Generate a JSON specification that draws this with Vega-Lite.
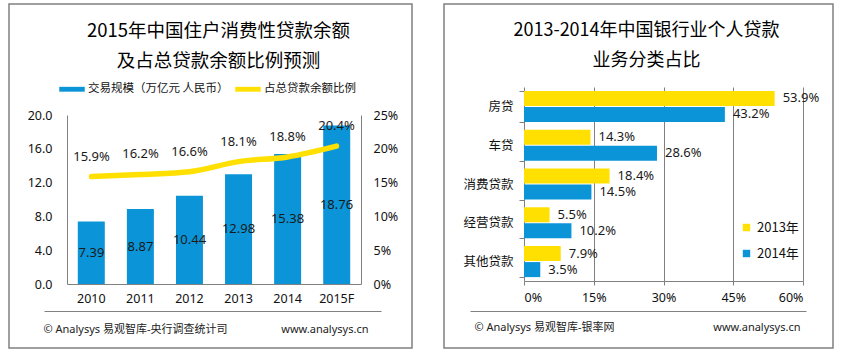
{
  "$schema": "https://vega.github.io/schema/vega-lite/v6.json",
  "padding": {"left": 8, "top": -3, "right": 0, "bottom": 0},
  "spacing": 32,
  "bounds": "flush",
  "resolve": {"scale": {"color": "independent"}, "legend": {"color": "independent"}},
  "config": {
    "view": {"stroke": "#808080", "strokeWidth": 1.5},
    "font": "Noto Sans, Noto Sans CJK SC",
    "axis": {"labelColor": "#111111", "labelFont": "Noto Sans, Noto Sans CJK SC", "domainColor": "#808080", "titleColor": "#222222", "titleFont": "Noto Sans, Noto Sans CJK SC", "titleFontWeight": "normal"},
    "legend": {"labelColor": "#111111", "labelFont": "Noto Sans CJK SC"}
  },
  "hconcat": [
    {
      "width": 403,
      "height": 344,
      "data": {"values": [
        {"year": "2010", "v": 7.39, "p": 0.159},
        {"year": "2011", "v": 8.87, "p": 0.162},
        {"year": "2012", "v": 10.44, "p": 0.166},
        {"year": "2013", "v": 12.98, "p": 0.181},
        {"year": "2014", "v": 15.38, "p": 0.188},
        {"year": "2015F", "v": 18.76, "p": 0.204}
      ]},
      "layer": [
        {
          "mark": {"type": "bar"},
          "encoding": {
            "x": {"field": "year", "type": "ordinal", "sort": null,
              "scale": {"range": [58, 352], "paddingInner": 0.45, "paddingOuter": 0.22},
              "axis": {"orient": "bottom", "offset": -64, "title": null, "ticks": false, "labelAngle": 0, "labelFontSize": 12.5, "labelPadding": 8}},
            "y": {"field": "v", "type": "quantitative",
              "scale": {"domain": [0, 20], "range": [280, 111], "nice": false},
              "axis": {"orient": "left", "offset": -58, "values": [0, 4, 8, 12, 16, 20], "format": ".1f", "grid": false, "ticks": false, "labelFontSize": 12.5, "labelPadding": 15, "title": null}},
            "color": {"datum": "交易规模（万亿元 人民币）",
              "scale": {"domain": ["交易规模（万亿元 人民币）", "占总贷款余额比例"], "range": ["#0B95D8", "#FFE000"]},
              "legend": {"orient": "none", "legendX": 50, "legendY": 72, "direction": "horizontal", "title": null, "symbolType": "M-1,-0.19H1V0.19H-1Z", "symbolSize": 650, "symbolStrokeWidth": 0, "labelFontSize": 11.5, "columnPadding": 6, "labelOffset": 3}}
          }
        },
        {
          "mark": {"type": "text", "fontSize": 13, "color": "#1a1a1a"},
          "encoding": {
            "x": {"field": "year", "type": "ordinal", "sort": null,
              "scale": {"range": [58, 352], "paddingInner": 0.45, "paddingOuter": 0.22},
              "axis": {"orient": "top", "offset": 0, "domain": false, "ticks": false, "labels": false, "grid": false,
                "title": ["2015年中国住户消费性贷款余额", "及占总贷款余额比例预测"], "titleFont": "Noto Sans CJK SC", "titleFontSize": 18.5, "titleColor": "#000000", "titleLineHeight": 30, "titleAlign": "center", "titleBaseline": "top", "titleX": 209, "titleY": 17}},
            "y": {"field": "v", "type": "quantitative",
              "scale": {"domain": [0, 40], "range": [280, 111], "nice": false}, "axis": null},
            "text": {"field": "v", "type": "quantitative", "format": ".2f"}
          }
        },
        {
          "mark": {"type": "line", "color": "#FFE000", "strokeWidth": 5.5, "interpolate": "monotone", "strokeCap": "round"},
          "encoding": {
            "x": {"field": "year", "type": "ordinal", "sort": null,
              "scale": {"range": [58, 352], "paddingInner": 0.45, "paddingOuter": 0.22}, "axis": null},
            "y": {"field": "p", "type": "quantitative",
              "scale": {"domain": [0, 0.25], "range": [280, 111], "nice": false},
              "axis": {"orient": "right", "offset": -51, "values": [0, 0.05, 0.1, 0.15, 0.2, 0.25], "format": ".0%", "grid": false, "ticks": false, "labelFontSize": 12.5, "labelPadding": 12,
                "title": "www.analysys.cn", "titleAngle": 0, "titleAlign": "right", "titleBaseline": "middle", "titleX": 7, "titleY": 325, "titleFontSize": 11}}
          }
        },
        {
          "mark": {"type": "text", "fontSize": 13, "color": "#1a1a1a", "dy": -20},
          "encoding": {
            "x": {"field": "year", "type": "ordinal", "sort": null,
              "scale": {"range": [58, 352], "paddingInner": 0.45, "paddingOuter": 0.22}, "axis": null},
            "y": {"field": "p", "type": "quantitative",
              "scale": {"domain": [0, 0.25], "range": [280, 111], "nice": false}, "axis": null},
            "text": {"field": "p", "type": "quantitative", "format": ".1%"}
          }
        },
        {
          "data": {"values": [{"s": 0}, {"s": 1}]},
          "mark": {"type": "rule", "opacity": 0},
          "encoding": {
            "x": {"field": "s", "type": "quantitative",
              "scale": {"domain": [0, 1], "range": [35, 372], "nice": false},
              "axis": {"orient": "bottom", "offset": -37, "ticks": false, "labels": false, "grid": false,
                "title": "© Analysys 易观智库-央行调查统计司", "titleAnchor": "start", "titleAlign": "left", "titleBaseline": "middle", "titleX": 34, "titleY": 18, "titleFontSize": 11}}
          }
        }
      ],
      "resolve": {"scale": {"x": "independent", "y": "independent"}, "axis": {"x": "independent", "y": "independent"}}
    },
    {
      "width": 389,
      "height": 344,
      "data": {"values": [
        {"cat": "房贷", "year": "2013年", "v": 0.539},
        {"cat": "房贷", "year": "2014年", "v": 0.432},
        {"cat": "车贷", "year": "2013年", "v": 0.143},
        {"cat": "车贷", "year": "2014年", "v": 0.286},
        {"cat": "消费贷款", "year": "2013年", "v": 0.184},
        {"cat": "消费贷款", "year": "2014年", "v": 0.145},
        {"cat": "经营贷款", "year": "2013年", "v": 0.055},
        {"cat": "经营贷款", "year": "2014年", "v": 0.102},
        {"cat": "其他贷款", "year": "2013年", "v": 0.079},
        {"cat": "其他贷款", "year": "2014年", "v": 0.035}
      ]},
      "layer": [
        {
          "mark": {"type": "bar"},
          "encoding": {
            "y": {"field": "cat", "type": "nominal", "sort": null,
              "scale": {"range": [83, 277], "paddingInner": 0.2, "paddingOuter": 0.1},
              "axis": {"orient": "left", "offset": -80, "tickBand": "extent", "ticks": true, "tickSize": 5, "tickColor": "#808080", "labelFontSize": 12.5, "labelPadding": 6,
                "title": "www.analysys.cn", "titleAngle": 0, "titleAlign": "right", "titleBaseline": "middle", "titleX": 276, "titleY": 323, "titleFontSize": 11}},
            "yOffset": {"field": "year", "type": "nominal", "sort": null, "scale": {"paddingInner": 0.06}},
            "x": {"field": "v", "type": "quantitative",
              "scale": {"domain": [0, 0.6], "range": [80, 359], "nice": false},
              "axis": {"orient": "bottom", "offset": -67, "values": [0, 0.15, 0.3, 0.45, 0.6], "format": ".0%", "grid": false, "tickColor": "#808080", "tickSize": 4, "labelFontSize": 12.5, "labelPadding": 6, "title": null}},
            "color": {"field": "year", "type": "nominal",
              "scale": {"domain": ["2013年", "2014年"], "range": ["#FFE000", "#0B95D8"]},
              "legend": {"orient": "none", "legendX": 296, "legendY": 217, "title": null, "symbolType": "square", "symbolSize": 55, "symbolStrokeWidth": 0, "labelFontSize": 13, "rowPadding": 12, "labelOffset": 4}}
          }
        },
        {
          "mark": {"type": "text", "align": "left", "dx": 8, "fontSize": 13, "color": "#1a1a1a"},
          "encoding": {
            "y": {"field": "cat", "type": "nominal", "sort": null},
            "yOffset": {"field": "year", "type": "nominal", "sort": null},
            "x": {"field": "v", "type": "quantitative", "scale": {"domain": [0, 0.6], "range": [80, 359], "nice": false},
              "axis": {"orient": "top", "offset": 0, "values": [0.15, 0.3, 0.45, 0.6], "grid": true, "gridColor": "#808080", "gridOpacity": 1, "domain": false, "ticks": false, "labels": false,
                "title": ["2013-2014年中国银行业个人贷款", "业务分类占比"], "titleFont": "Noto Sans CJK SC", "titleFontSize": 18, "titleColor": "#000000", "titleLineHeight": 30, "titleAlign": "center", "titleBaseline": "top", "titleX": 202, "titleY": 17}},
            "text": {"field": "v", "type": "quantitative", "format": ".1%"}
          }
        },
        {
          "data": {"values": [{"s": 0}, {"s": 1}]},
          "mark": {"type": "rule", "opacity": 0},
          "encoding": {
            "x": {"field": "s", "type": "quantitative",
              "scale": {"domain": [0, 1], "range": [26, 362], "nice": false},
              "axis": {"orient": "bottom", "offset": -37, "ticks": false, "labels": false, "grid": false,
                "title": "© Analysys 易观智库-银率网", "titleAnchor": "start", "titleAlign": "left", "titleBaseline": "middle", "titleX": 30, "titleY": 16, "titleFontSize": 11}}
          }
        }
      ],
      "resolve": {"scale": {"x": "independent"}, "axis": {"x": "independent"}}
    }
  ]
}
